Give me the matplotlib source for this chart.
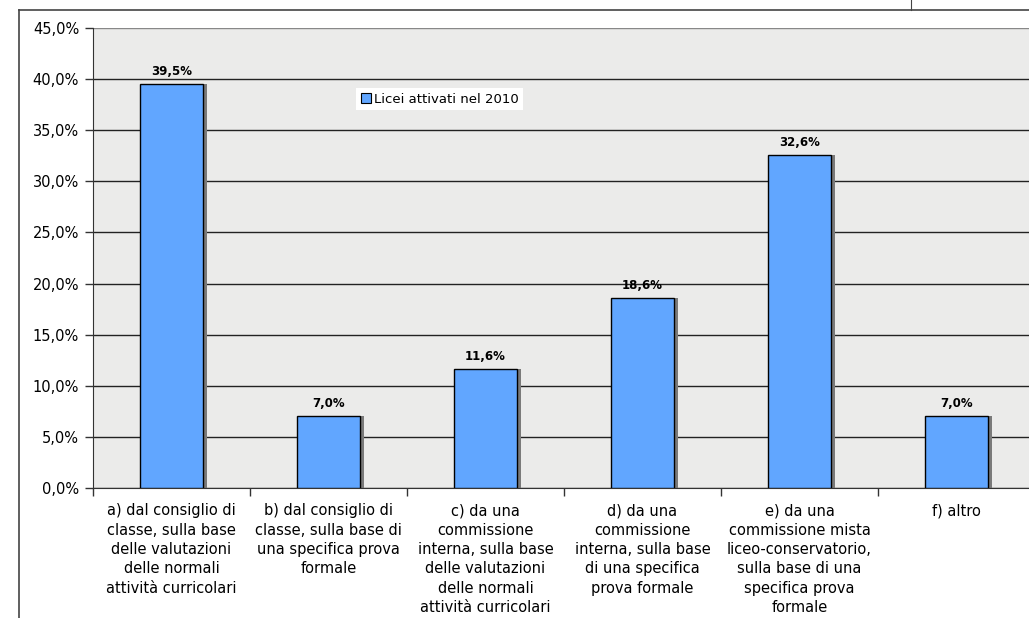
import numpy as np
import matplotlib.pyplot as plt
from matplotlib.lines import Line2D
from matplotlib.patches import Patch
import matplotlib.transforms as mtransforms

categories = [
    "a) dal consiglio di\nclasse, sulla base\ndelle valutazioni\ndelle normali\nattività curricolari",
    "b) dal consiglio di\nclasse, sulla base di\nuna specifica prova\nformale",
    "c) da una\ncommissione\ninterna, sulla base\ndelle valutazioni\ndelle normali\nattività curricolari",
    "d) da una\ncommissione\ninterna, sulla base\ndi una specifica\nprova formale",
    "e) da una\ncommissione mista\nliceo-conservatorio,\nsulla base di una\nspecifica prova\nformale",
    "f) altro",
]
values = [39.5, 7.0, 11.6, 18.6, 32.6, 7.0]
series_name = "Licei attivati nel 2010"
yticks = [0, 5, 10, 15, 20, 25, 30, 35, 40, 45]

bar_color = "#61a6ff"
bg_color = "#ebebea"

fig = plt.figure(figsize=(10.29, 6.18), dpi=100)
W, H = 1029, 618
ax = fig.add_axes([93 / W, 1 - 488 / H, (1035 - 93) / W, (488 - 28) / H])
ax.set_facecolor(bg_color)

x = np.arange(len(values))
width = 0.4

# shadow bars, shifted a few pixels right
shadow = ax.transData + mtransforms.ScaledTranslation(4 / 100, 0, fig.dpi_scale_trans)
ax.bar(x, values, width, color="#7a7a7a", edgecolor="none", transform=shadow, zorder=2)
ax.bar(x, values, width, color=bar_color, edgecolor="black", linewidth=1.0, zorder=3)

for xi, v in zip(x, values):
    ax.text(xi, v + 0.6, f"{v:.1f}%".replace(".", ","), ha="center", va="bottom",
            fontsize=8.5, fontweight="bold", zorder=4)

ax.set_xlim(-0.5, len(values) - 0.5)
ax.set_ylim(0, 45)
ax.set_yticks(yticks)
ax.set_yticklabels([f"{t:.1f}%".replace(".", ",") for t in yticks], fontsize=10.5)
ax.yaxis.grid(True, color="#222222", linewidth=1.0, zorder=1)
ax.set_axisbelow(True)
ax.get_ygridlines()[-1].set_color("#888888")

ax.set_xticks(x)
ax.set_xticklabels(categories, fontsize=10.5, linespacing=1.36)
ax.tick_params(axis="x", length=0, pad=11)
ax.set_xticks(np.arange(-0.5, len(values)), minor=True)
ax.tick_params(axis="x", which="minor", length=6, width=1.0, color="#333333")
ax.tick_params(axis="y", length=6, width=1.0, color="#333333", pad=4)

for side in ["top", "right"]:
    ax.spines[side].set_visible(False)
ax.spines["left"].set_color("#333333")
ax.spines["bottom"].set_color("#333333")

handle = Patch(facecolor=bar_color, edgecolor="black", linewidth=0.8, label=series_name)
leg = ax.legend(handles=[handle], loc="upper left",
                bbox_to_anchor=((356 - 93) / (1035 - 93), 1 - (88 - 28) / 460),
                borderaxespad=0, fontsize=9.5, frameon=True, fancybox=False, framealpha=1,
                handlelength=0.8, handleheight=0.8, handletextpad=0.2, borderpad=0.35)
leg.get_frame().set_edgecolor("white")
leg.get_frame().set_linewidth(0)

# outer chart frame
fig.add_artist(Line2D([19 / W, 19 / W], [0, 1 - 10 / H], color="#444444", linewidth=1.2))
fig.add_artist(Line2D([19 / W, 1], [1 - 10 / H, 1 - 10 / H], color="#444444", linewidth=1.2))
fig.add_artist(Line2D([911 / W, 911 / W], [1 - 10 / H, 1], color="#444444", linewidth=0.8))

fig.savefig("out.png", dpi=100, facecolor="white")
